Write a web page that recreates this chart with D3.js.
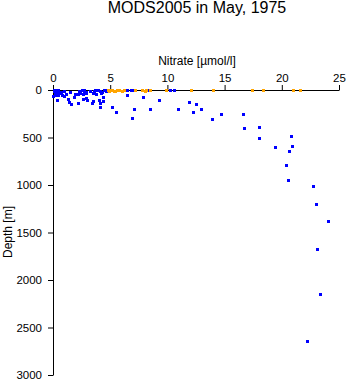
<!DOCTYPE html>
<html>
<head>
<meta charset="utf-8">
<script src="https://cdn.jsdelivr.net/npm/d3@7"></script>
<style>
  html, body { margin: 0; padding: 0; background: #fff; }
  svg { display: block; font-family: "Liberation Sans", Arial, Helvetica, sans-serif; }
</style>
</head>
<body>
<svg id="chart" width="348" height="384"></svg>
<script>
const title = "MODS2005 in May, 1975";
const xLabel = "Nitrate [\u00b5mol/l]";
const yLabel = "Depth [m]";
const xTicks = [0, 5, 10, 15, 20, 25];
const yTicks = [0, 500, 1000, 1500, 2000, 2500, 3000];

// blue series: nitrate and depth
const blueNitrate = [0.05,0.2,0.4,0.1,0.3,0.5,0.15,0.35,0.6,0.2,0.45,0.33,0.83,1.1,0.92,1.27,1.4,1.6,1.85,2.2,
  2.3,2.5,2.7,2.9,2.4,2.2,2.6,2.75,2.9,2.6,3.0,2.9,3.4,3.5,3.57,3.5,3.7,3.9,4.1,4.3,4.5,4.7,4.2,4.0,4.12,4.1,4.35,4.6,
  4.8,5.14,5.5,6.45,6.5,6.8,7.0,7.8,8.3,6.9,7.07,7.85,8.5,9.25,10.2,10.6,10.9,11.9,12.2,12.5,12.9,13.9,14.7,
  16.6,16.7,18.0,18.0,19.4,20.8,20.9,20.6,20.35,20.5,22.7,23.0,24.05,23.1,23.3,22.2,
  0.0,0.7,1.0,1.9,3.2,3.8,4.4,0.25,1.5];
const blueDepth = [0,0,0,10,15,20,30,40,30,50,55,100,55,37,65,90,124,149,72,142,
  10,0,5,20,30,45,47,12,30,90,107,82,142,30,12,121,0,5,10,20,0,0,30,107,142,184,118,12,
  5,177,230,51,0,0,5,5,0,293,205,76,195,103,0,2,198,124,230,150,198,300,248,
  251,398,387,503,598,486,588,640,792,950,1010,1195,1380,1670,2150,2640,
  60,20,10,40,15,45,70,5,25];

// orange series (surface)
const orangeNitrate = [4.8,5.0,5.2,5.4,5.6,5.8,6.0,6.2,5.3,4.9,7.2,7.8,8.0,8.1,8.5,9.9,12.1,14.0,17.4,18.4,21.0,21.6];
const orangeDepth   = [0,5,0,10,5,0,15,5,15,10,0,0,10,0,0,0,0,0,0,0,0,0];

const svg = d3.select("#chart");
const x = d3.scaleLinear().domain([0, 25]).range([53, 339]);
const y = d3.scaleLinear().domain([0, 3000]).range([90, 375]);

svg.append("text").attr("x", 197).attr("y", 13).attr("text-anchor", "middle")
  .attr("font-size", 16).text(title);

const xa = svg.append("g").attr("transform", "translate(0,90)")
  .call(d3.axisTop(x).tickValues(xTicks).tickFormat(d3.format("d")).tickSize(5).tickSizeOuter(0).tickPadding(3));
const ya = svg.append("g").attr("transform", "translate(53,0)")
  .call(d3.axisLeft(y).tickValues(yTicks).tickFormat(d3.format("d")).tickSize(5).tickSizeOuter(0).tickPadding(6));
[xa, ya].forEach(g => {
  g.selectAll("text").attr("font-size", 11.5).attr("font-family", "Liberation Sans, Arial, sans-serif").attr("fill", "#000");
  g.selectAll("line,path").attr("stroke", "#000");
});

svg.append("text").attr("x", 197).attr("y", 65).attr("text-anchor", "middle")
  .attr("font-size", 12).text(xLabel);
svg.append("text").attr("transform", "translate(12,232) rotate(-90)")
  .attr("text-anchor", "middle").attr("font-size", 12).text(yLabel);

const n = Math.min(blueNitrate.length, blueDepth.length);
const blue = blueNitrate.slice(0, n).map((v, i) => [v, blueDepth[i]]);
const orange = orangeNitrate.map((v, i) => [v, orangeDepth[i]]);

svg.append("g").selectAll("rect").data(blue).join("rect")
  .attr("x", d => Math.round(x(d[0])) - 1).attr("y", d => Math.round(y(d[1])) - 1)
  .attr("width", 3).attr("height", 3).attr("fill", "#0000ff");
svg.append("g").selectAll("rect").data(orange).join("rect")
  .attr("x", d => Math.round(x(d[0])) - 1).attr("y", d => Math.round(y(d[1])) - 1)
  .attr("width", 3).attr("height", 3).attr("fill", "#ffa500");
</script>
</body>
</html>
